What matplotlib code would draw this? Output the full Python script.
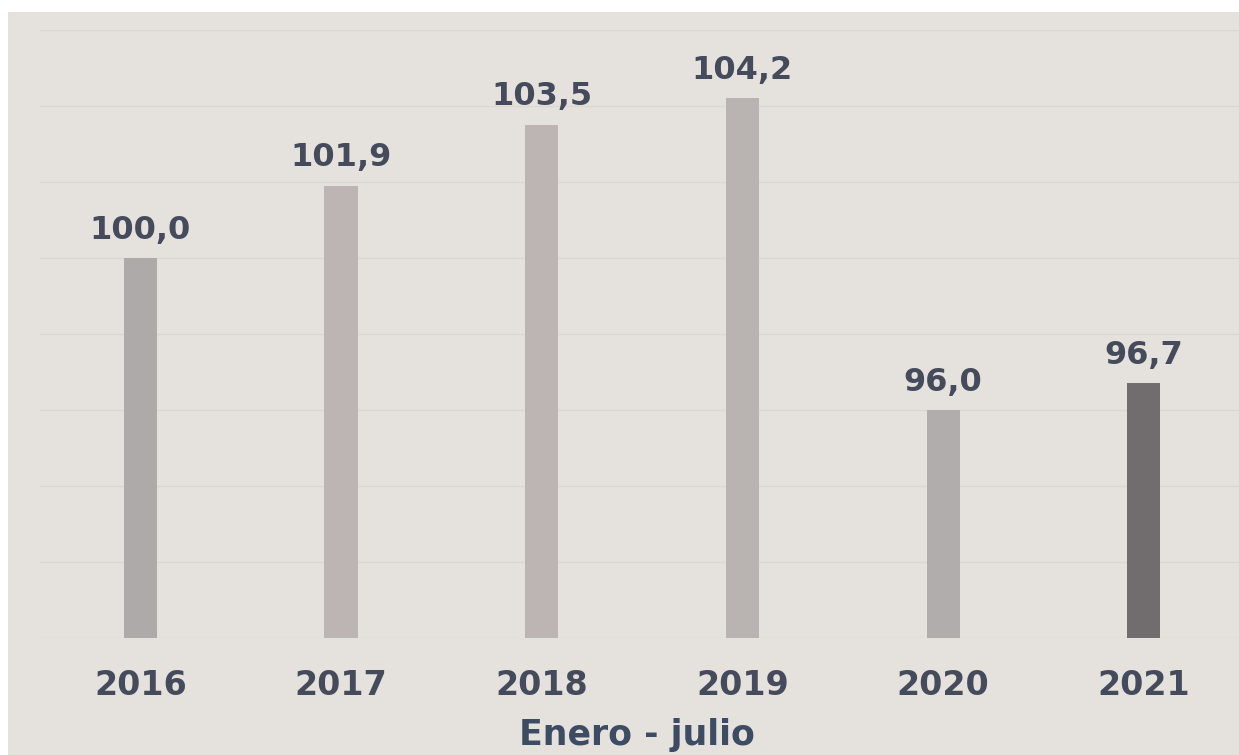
import matplotlib.pyplot as plt
from matplotlib.patches import Rectangle

# Index values (2016 = 100), January-July of each year
years = ["2016", "2017", "2018", "2019", "2020", "2021"]
values = [100.0, 101.9, 103.5, 104.2, 96.0, 96.7]
bar_colors = ["#AFAAAA", "#BDB5B3", "#BDB5B3", "#B9B4B1", "#B1ADAC", "#716C6E"]

BG = "#E5E2DD"
TEXT = "#464B5B"

plt.rcParams["font.family"] = ["DejaVu Sans"]

fig = plt.figure(figsize=(12.39, 7.55), dpi=100, facecolor=BG)
# white margins along the top and left edges
fig.patches.append(Rectangle((0, 743 / 755), 1, 12 / 755, transform=fig.transFigure,
                             facecolor="white", edgecolor="none", zorder=0))
fig.patches.append(Rectangle((0, 0), 8 / 1239, 1, transform=fig.transFigure,
                             facecolor="white", edgecolor="none", zorder=0))

ax = fig.add_axes([40 / 1239, 117 / 755, 1199 / 1239, 608 / 755])
ax.set_facecolor(BG)

x = range(len(years))
bars = ax.bar(x, values, width=0.165, color=bar_colors, zorder=2)

ax.set_ylim(90, 106)
ax.set_xlim(-0.5, 5.474)
ax.set_yticks(range(90, 107, 2))
ax.yaxis.grid(True, color="#DBD8D3", linewidth=1.0, zorder=0)
ax.tick_params(axis="y", left=False, labelleft=False)
ax.tick_params(axis="x", length=0, pad=22)
ax.set_xticks(list(x))
ax.set_xticklabels(years, fontsize=24, fontweight="bold", color=TEXT)
for side in ("top", "right", "left", "bottom"):
    ax.spines[side].set_visible(False)

for bar, val in zip(bars, values):
    ax.annotate(f"{val:.1f}".replace(".", ","),
                (bar.get_x() + bar.get_width() / 2, val),
                xytext=(0, 9), textcoords="offset points",
                ha="center", va="bottom", fontsize=23, fontweight="bold",
                color=TEXT)

fig.text(637 / 1239, 10 / 755, "Enero - julio", ha="center", va="baseline",
         fontsize=25, fontweight="bold", color="#3E4C63")

fig.savefig("out.png", dpi=100, facecolor=fig.get_facecolor())
